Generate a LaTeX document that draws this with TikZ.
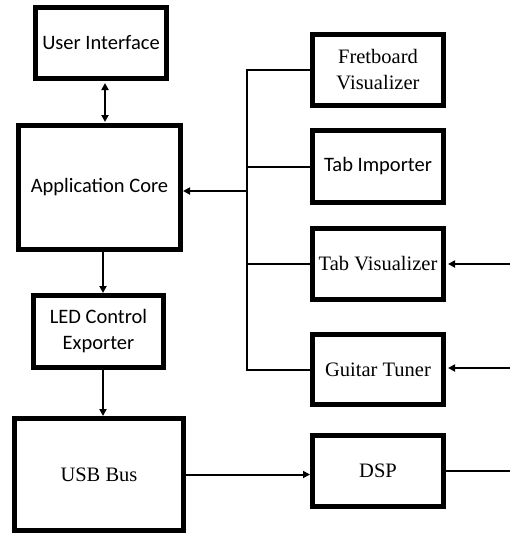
\documentclass[tikz,border=0pt]{standalone}
\usepackage{fontspec}
\setmainfont{Liberation Serif}
\newfontfamily\calfont{Carlito}
\usetikzlibrary{arrows.meta}

\begin{document}
\begin{tikzpicture}[x=1pt, y=-1pt,
        block/.style={draw, line width=5pt, inner sep=0pt, align=center,
            minimum width=131pt, minimum height=71pt,
            font=\fontsize{20.5}{26}\selectfont},
        sansblock/.style={block, font=\calfont\fontsize{20.5}{26}\selectfont},
        link/.style={line width=2pt},
        arrow/.style={link, -{Triangle[length=7pt, width=7pt]}}]
    \useasboundingbox (0,0) rectangle (510,533);

    \node[sansblock] (ui) at (101,43) {User Interface};
    \node[sansblock, minimum width=162pt, minimum height=124pt] (core) at (99.5,187.5) {Application Core};
    \node[sansblock, minimum width=130pt, minimum height=72pt] (led) at (98.5,331.5) {LED Control\\Exporter};
    \node[block, minimum width=169pt, minimum height=112pt] (usb) at (99,474.5) {USB Bus};

    \node[block] (fret) at (378,70) {Fretboard\\Visualizer};
    \node[sansblock, minimum height=72pt] (tabimp) at (378,166.5) {Tab Importer};
    \node[block] (tabvis) at (378,264) {Tab Visualizer};
    \node[block, minimum height=70pt] (tuner) at (378,369.5) {Guitar Tuner};
    \node[block] (dsp) at (378,471) {DSP};

    \coordinate (bj) at (246.5,191);
    \coordinate (visin) at (510,264);
    \coordinate (tunerin) at (510,368);
    \coordinate (dspout) at (510,471);

    \draw[link] (fret.west) -| (bj) |- (tuner.west);
    \draw[link] (tabimp.west) -- (tabimp.west -| bj);
    \draw[link] (tabvis.west) -- (tabvis.west -| bj);
    \draw[arrow] (bj) -- (bj -| core.east);

    \draw[arrow, {Triangle[length=7pt, width=7pt]}-{Triangle[length=7pt, width=7pt]}, shorten <=2pt, shorten >=1pt] ([xshift=4pt]ui.south) -- ([xshift=5.5pt]core.north);
    \draw[arrow] ([xshift=3.5pt]core.south) -- ([xshift=4.5pt]led.north);
    \draw[arrow] ([xshift=4.5pt]led.south) -- ([xshift=4pt]usb.north);

    \draw[arrow, shorten >=2pt] (visin) -- (tabvis.east);
    \draw[arrow, shorten >=2pt] (tunerin) -- (tunerin -| tuner.east);
    \draw[arrow] (usb.east) -- (usb.east -| dsp.west);
    \draw[link] (dsp.east) -- (dspout);
\end{tikzpicture}
\end{document}
